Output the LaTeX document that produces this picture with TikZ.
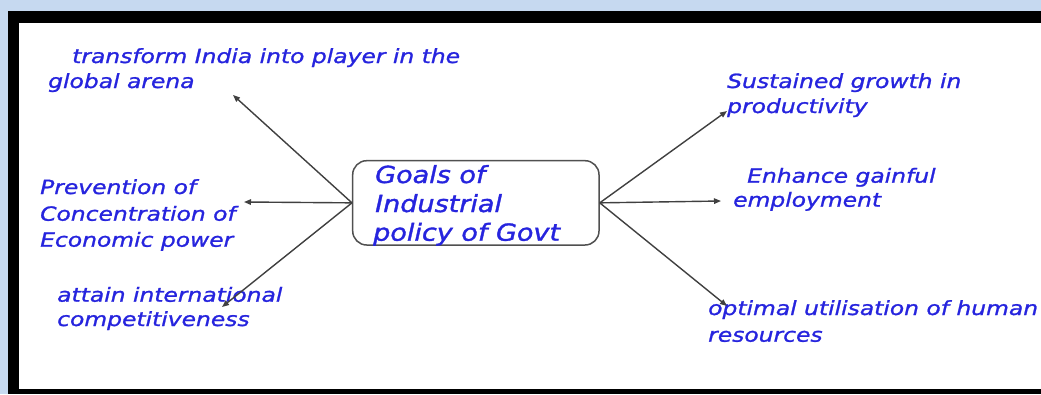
\documentclass[tikz,border=0pt]{standalone}
\usepackage{fontspec}
\usetikzlibrary{arrows.meta}
\newfontfamily\lblfont{DejaVu Sans}[FakeStretch=1.2,FakeBold=1.2]
\newfontfamily\goalfont{DejaVu Sans}[FakeStretch=1.15,FakeBold=1.4]
\definecolor{bgblue}{RGB}{198,217,240}
\definecolor{inkblue}{RGB}{38,36,222}
\definecolor{arrowgray}{RGB}{64,64,64}
\definecolor{boxgray}{RGB}{80,80,80}
\tikzset{
  lbl/.style={font=\lblfont\itshape\fontsize{19.5}{24}\selectfont, text=inkblue, anchor=base west, inner sep=0pt},
  goaltxt/.style={font=\goalfont\itshape\fontsize{23.5}{29}\selectfont, text=inkblue, anchor=base west, inner sep=0pt},
  arr/.style={draw=arrowgray, line width=1.4pt, -{Triangle[length=7pt,width=5.5pt]}},
  goalbox/.style={draw=boxgray, line width=1.5pt, rounded corners=14pt, minimum width=246.3pt, minimum height=84.3pt, inner sep=0pt}
}
\begin{document}
\begin{tikzpicture}[x=1pt,y=-1pt]
\useasboundingbox (0,0) rectangle (1041,394);
\fill[bgblue] (0,0) rectangle (1041,394);
\fill[black] (8,11) rectangle (1041,394);
\fill[white] (19,23) rectangle (1041,389);
% central box
\node[goalbox] (goal) at (475.85,202.85) {};
\node[goaltxt] (g1) at (375,183) {Goals of};
\node[goaltxt] (g2) at (375,212) {Industrial};
\node[goaltxt] (g3) at (373,240.7) {policy of Govt};
% labels
\node[lbl] (ul1) at (72,63) {transform India into player in the};
\node[lbl] (ul2) at (48,88) {global arena};
\node[lbl] (l1) at (40,194) {Prevention of};
\node[lbl] (l2) at (40,220.7) {Concentration of};
\node[lbl] (l3) at (40,246.7) {Economic power};
\node[lbl] (dl1) at (57,301.7) {attain international};
\node[lbl] (dl2) at (57,326) {competitiveness};
\node[lbl] (ur1) at (727,88) {Sustained growth in};
\node[lbl] (ur2) at (727,113) {productivity};
\node[lbl] (r1) at (747,182.7) {Enhance gainful};
\node[lbl] (r2) at (733,206.7) {employment};
\node[lbl] (dr1) at (708,315) {optimal utilisation of human};
\node[lbl] (dr2) at (708,341.7) {resources};
% arrow tips
\coordinate (tUL) at (233,95);
\coordinate (tL) at (244,202);
\coordinate (tDL) at (222,307);
\coordinate (tUR) at (727,111);
\coordinate (tR) at (721,201);
\coordinate (tDR) at (727,306);
\draw[arr] (goal.west) -- (tUL);
\draw[arr] (goal.west) -- (tL);
\draw[arr] (goal.west) -- (tDL);
\draw[arr] (goal.east) -- (tUR);
\draw[arr] (goal.east) -- (tR);
\draw[arr] (goal.east) -- (tDR);
\end{tikzpicture}
\end{document}
